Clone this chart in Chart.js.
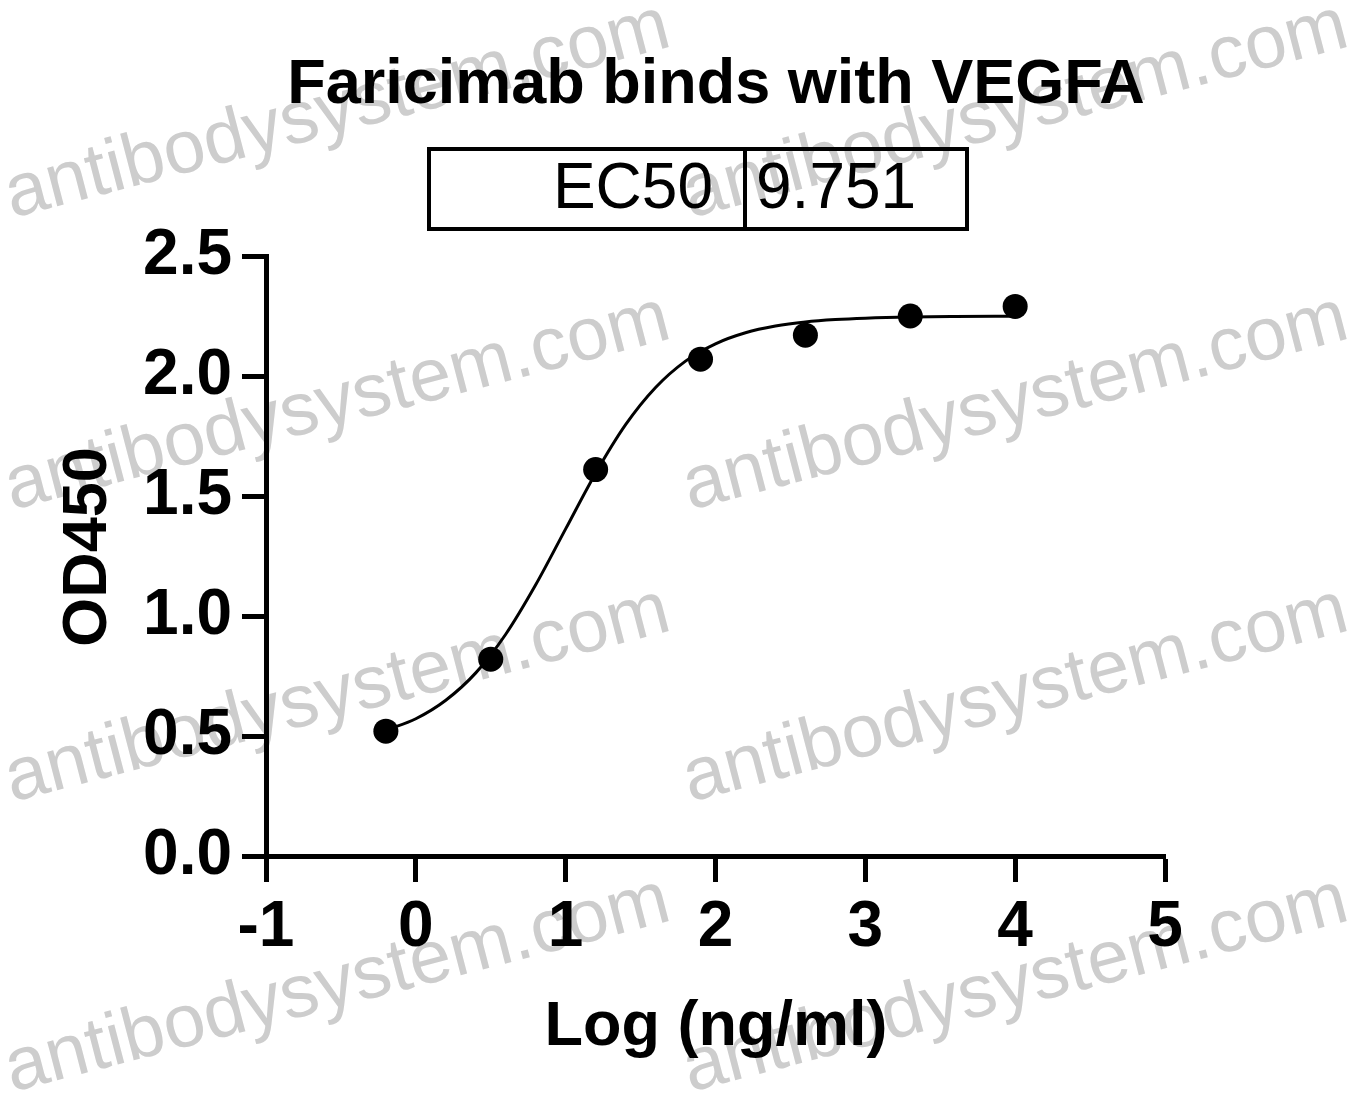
<!DOCTYPE html>
<html>
<head>
<meta charset="utf-8">
<script src="https://cdn.jsdelivr.net/npm/chart.js@4.4.1/dist/chart.umd.min.js"></script>
<style>
  html, body { margin: 0; padding: 0; background: #ffffff; }
  #wrap { width: 1358px; height: 1104px; }
</style>
</head>
<body>
<div id="wrap"><canvas id="c" width="1358" height="1104"></canvas></div>
<script>
// ---- data ----
const chartTitle = "Faricimab binds with VEGFA";
const xAxisTitle = "Log (ng/ml)";
const yAxisTitle = "OD450";
const ec50Label = "EC50";
const ec50Value = "9.751";
const watermarkText = "antibodysystem.com";

const doseLog = [-0.2, 0.5, 1.2, 1.9, 2.6, 3.3, 4.0];
const od450   = [0.52, 0.82, 1.61, 2.07, 2.17, 2.25, 2.29];

const fitLog = [-0.2, 0.0, 0.2, 0.4, 0.6, 0.8, 1.0, 1.2, 1.4, 1.6, 1.8, 2.0, 2.2, 2.4, 2.6, 2.8, 3.0, 3.3, 3.6, 4.0];
const fitOD  = [0.524, 0.572, 0.649, 0.763, 0.924, 1.130, 1.363, 1.595, 1.797, 1.952, 2.062, 2.134, 2.180, 2.208, 2.225, 2.235, 2.241, 2.246, 2.248, 2.249];

const xTicks = [-1, 0, 1, 2, 3, 4, 5];
const yTicks = [0.0, 0.5, 1.0, 1.5, 2.0, 2.5];

// ---- build ----
const pointsData = doseLog.map((x, i) => ({ x: x, y: od450[i] }));
const curveData = fitLog.map((x, i) => ({ x: x, y: fitOD[i] }));

const FONT = "'Liberation Sans', Arial, Helvetica, sans-serif";

const decorPlugin = {
  id: 'decor',
  beforeDraw(chart) {
    const ctx = chart.ctx;
    ctx.save();
    ctx.fillStyle = '#ffffff';
    ctx.fillRect(0, 0, chart.width, chart.height);
    // watermark (behind everything)
    ctx.font = "75px " + FONT;
    ctx.fillStyle = 'rgb(205,205,205)';
    ctx.textAlign = 'left';
    ctx.textBaseline = 'alphabetic';
    const starts = [[12, 218], [690, 218], [12, 510], [690, 510], [12, 802], [690, 802], [12, 1092], [690, 1092]];
    starts.forEach(([sx, sy]) => {
      ctx.save();
      ctx.translate(sx, sy);
      ctx.rotate(-14.6 * Math.PI / 180);
      ctx.fillText(watermarkText, 0, 0);
      ctx.restore();
    });
    ctx.restore();
  },
  afterDraw(chart) {
    const ctx = chart.ctx;
    ctx.save();
    ctx.fillStyle = '#000';
    ctx.strokeStyle = '#000';
    // title
    ctx.font = "bold 63px " + FONT;
    ctx.textAlign = 'center';
    ctx.textBaseline = 'alphabetic';
    ctx.fillText(chartTitle, 716, 103);
    // EC50 table
    ctx.lineWidth = 4;
    ctx.strokeRect(429, 149, 538, 80);
    ctx.beginPath();
    ctx.moveTo(745, 149); ctx.lineTo(745, 229);
    ctx.stroke();
    ctx.font = "64px " + FONT;
    ctx.textAlign = 'right';
    ctx.fillText(ec50Label, 713, 208);
    ctx.textAlign = 'left';
    ctx.fillText(ec50Value, 756, 208);
    // axis titles
    ctx.font = "bold 63px " + FONT;
    ctx.textAlign = 'center';
    ctx.fillText(xAxisTitle, 716, 1045);
    ctx.save();
    ctx.translate(106, 547);
    ctx.rotate(-Math.PI / 2);
    ctx.fillText(yAxisTitle, 0, 0);
    ctx.restore();
    ctx.restore();
  }
};

new Chart(document.getElementById('c'), {
  type: 'scatter',
  data: {
    datasets: [
      {
        label: 'fit',
        data: curveData,
        showLine: true,
        borderColor: '#000',
        borderWidth: 3,
        pointRadius: 0,
        cubicInterpolationMode: 'monotone',
        order: 2
      },
      {
        label: 'OD450',
        data: pointsData,
        showLine: false,
        pointRadius: 12.5,
        pointBackgroundColor: '#000',
        pointBorderColor: '#000',
        pointBorderWidth: 0,
        order: 1
      }
    ]
  },
  options: {
    responsive: false,
    animation: false,
    layout: { padding: { left: 0, top: 256, right: 193, bottom: 0 } },
    plugins: { legend: { display: false }, tooltip: { enabled: false }, title: { display: false } },
    scales: {
      x: {
        type: 'linear',
        min: xTicks[0],
        max: xTicks[xTicks.length - 1],
        afterFit(scale) { scale.height = 248; },
        afterBuildTicks(scale) { scale.ticks = xTicks.map(v => ({ value: v })); },
        ticks: {
          color: '#000',
          font: { family: FONT, size: 64, weight: 'bold' },
          padding: 8,
          maxRotation: 0,
          callback: v => String(v)
        },
        grid: { drawOnChartArea: false, drawTicks: true, tickLength: 26, tickWidth: 5, tickColor: '#000' },
        border: { display: true, width: 5, color: '#000' }
      },
      y: {
        type: 'linear',
        min: yTicks[0],
        max: yTicks[yTicks.length - 1],
        afterFit(scale) { scale.width = 266; },
        afterBuildTicks(scale) { scale.ticks = yTicks.map(v => ({ value: v })); },
        ticks: {
          color: '#000',
          font: { family: FONT, size: 64, weight: 'bold' },
          padding: 10,
          callback: v => Number(v).toFixed(1)
        },
        grid: { drawOnChartArea: false, drawTicks: true, tickLength: 24, tickWidth: 5, tickColor: '#000' },
        border: { display: true, width: 5, color: '#000' }
      }
    }
  },
  plugins: [decorPlugin]
});
</script>
</body>
</html>
